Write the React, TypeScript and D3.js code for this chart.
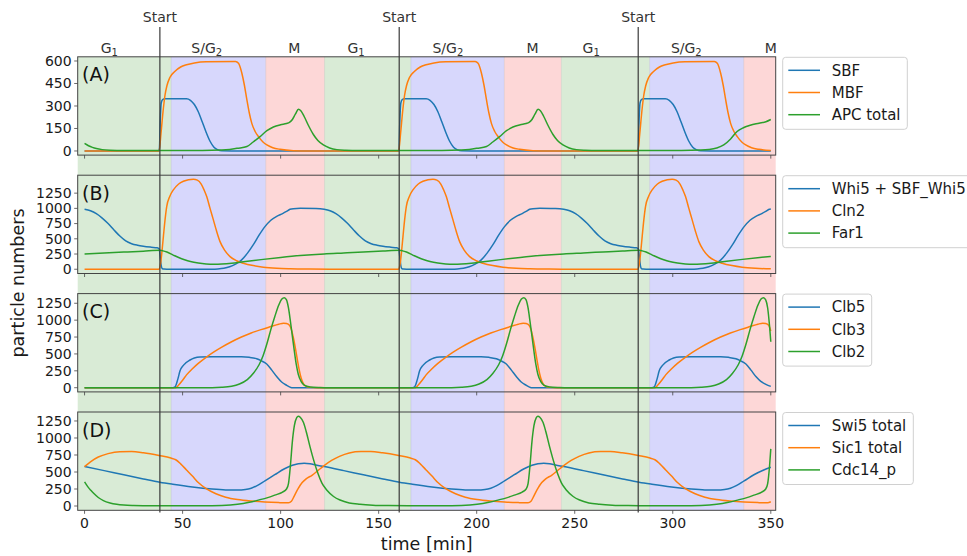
import React from 'react';
import * as d3 from 'd3';

type P = [number, number];

const TIME_TICKS = [0, 50, 100, 150, 200, 250, 300, 350];
const START_TIMES = [38.4, 160.5, 282.4];
const PHASE_BOUNDS = [-3.5, 44.2, 92.4, 122.4, 166.4, 214.1, 243.2, 288.2, 336.2, 352.5];
const PHASE_KINDS = ['G1', 'SG2', 'M', 'G1', 'SG2', 'M', 'G1', 'SG2', 'M'];
const PHASE_LABEL_POS = [12.6, 62.3, 107, 138.5, 185.3, 228.5, 258.4, 306.9, 350];

const SBF: P[] = [[0,0],[37.8,0],[38.2,20],[38.6,200],[39.1,320],[39.8,343],[41,348],[52,348],[54,338],[56,310],[58,262],[60,195],[62,125],[64,65],[66,25],[68,7],[70,1],[75,0],
[160,0],[160.4,20],[160.8,200],[161.3,320],[162,343],[163.2,348],[174.2,348],[176.2,338],[178.2,310],[180.2,262],[182.2,195],[184.2,125],[186.2,65],[188.2,25],[190.2,7],[192.2,1],[197.2,0],
[282,0],[282.4,20],[282.8,200],[283.3,320],[284,343],[285.2,348],[296.2,348],[298.2,338],[300.2,310],[302.2,262],[304.2,195],[306.2,125],[308.2,65],[310.2,25],[312.2,7],[314.2,1],[319.2,0],[350,0]];

const MBF: P[] = [[0,0],[38,0],[39,120],[40,260],[41,370],[42,435],[43.5,490],[46,530],[49,560],[52,575],[56,587],[62,595],[77,597],[78.5,585],[80.2,520],[81.5,440],[82.8,340],[84,255],[85.3,184],[87,130],[88.7,96],[91,60],[93,40],[96,22],[99.7,11],[106.5,2],[115,0],
[160.2,0],[161.2,120],[162.2,260],[163.2,370],[164.2,435],[165.7,490],[168.2,530],[171.2,560],[174.2,575],[178.2,587],[184.2,595],[199.2,597],[200.7,585],[202.4,520],[203.7,440],[205,340],[206.2,255],[207.5,184],[209.2,130],[210.9,96],[213.2,60],[215.2,40],[218.2,22],[221.9,11],[228.7,2],[237.2,0],
[282.2,0],[283.2,120],[284.2,260],[285.2,370],[286.2,435],[287.7,490],[290.2,530],[293.2,560],[296.2,575],[300.2,587],[306.2,595],[321.2,597],[322.7,585],[324.4,520],[325.7,440],[327,340],[328.2,255],[329.5,184],[331.2,130],[332.9,96],[335.2,60],[337.2,40],[340.2,22],[343.9,11],[350,3]];

const APC: P[] = [[0,50],[2,35],[4,24],[6,16],[9,9],[13,5],[20,3],[60,3],[70,6],[74,10],[78,18],[82.8,30],[86,60],[89.5,96],[93,135],[96.3,160],[100,175],[103,183],[104.5,190],[106,210],[107.5,245],[109.1,278],[110.3,268],[112,230],[114,175],[116.7,110],[119,70],[121.8,40],[125,20],[128.7,9],[133,5],[140,3],
[182.2,3],[192.2,6],[196.2,10],[200.2,18],[205,30],[208.2,60],[211.7,96],[215.2,135],[218.5,160],[222.2,175],[225.2,183],[226.7,190],[228.2,210],[229.7,245],[231.3,278],[232.5,268],[234.2,230],[236.2,175],[238.9,110],[241.2,70],[244,40],[247.2,20],[250.9,9],[255.2,5],[262.2,3],
[304.4,3],[314.4,6],[318.4,10],[322.4,20],[326,40],[329.5,80],[332.8,130],[336,155],[339.5,172],[344,185],[347.5,195],[350,210]];

const WHI5: P[] = [[0,985],[3,960],[6,912],[9,840],[12,750],[15,645],[18,545],[21,465],[24,420],[27,395],[30,378],[34,362],[37,352],[38,335],[38.6,200],[39.1,60],[39.6,12],[40.5,2],[42,0],
[65,0],[68,4],[71,15],[74,40],[77,85],[80,150],[83,260],[86,400],[89,560],[92,700],[95,805],[98,870],[101,915],[103,950],[104.8,985],[106.5,995],[110,1000],[118,998],[122.2,985],
[125.2,960],[128.2,912],[131.2,840],[134.2,750],[137.2,645],[140.2,545],[143.2,465],[146.2,420],[149.2,395],[152.2,378],[156.2,362],[159.2,352],[160.2,335],[160.8,200],[161.3,60],[161.8,12],[162.7,2],[164.2,0],
[187.2,0],[190.2,4],[193.2,15],[196.2,40],[199.2,85],[202.2,150],[205.2,260],[208.2,400],[211.2,560],[214.2,700],[217.2,805],[220.2,870],[223.2,915],[225.2,950],[227,985],[228.7,995],[232.2,1000],[240.2,998],[244.4,985],
[247.4,960],[250.4,912],[253.4,840],[256.4,750],[259.4,645],[262.4,545],[265.4,465],[268.4,420],[271.4,395],[274.4,378],[278.4,362],[281.4,352],[282.4,335],[283,200],[283.5,60],[284,12],[284.9,2],[286.4,0],
[309.4,0],[312.4,4],[315.4,15],[318.4,40],[321.4,85],[324.4,150],[327.4,260],[330.4,400],[333.4,560],[336.4,700],[339.4,805],[342.4,870],[345.4,915],[347.4,950],[349.2,985],[350,990]];

const CLN2: P[] = [[0,0],[38,0],[38.8,100],[39.5,300],[40.2,536],[41,800],[41.9,1030],[43.5,1200],[45.3,1304],[48,1400],[50.4,1445],[53,1472],[55.5,1480],[57.5,1465],[59.5,1400],[61,1300],[62.3,1194],[64,1000],[65.7,811],[67.4,620],[69.1,454],[71.5,310],[74.2,207],[77.5,140],[81,99],[86,60],[91.2,33],[98,15],[105,7],[115,2],[125,0],
[160.2,0],[161,100],[161.7,300],[162.4,536],[163.2,800],[164.1,1030],[165.7,1200],[167.5,1304],[170.2,1400],[172.6,1445],[175.2,1472],[177.7,1480],[179.7,1465],[181.7,1400],[183.2,1300],[184.5,1194],[186.2,1000],[187.9,811],[189.6,620],[191.3,454],[193.7,310],[196.4,207],[199.7,140],[203.2,99],[208.2,60],[213.4,33],[220.2,15],[227.2,7],[237.2,2],[247.2,0],
[282.2,0],[283,100],[283.7,300],[284.4,536],[285.2,800],[286.1,1030],[287.7,1200],[289.5,1304],[292.2,1400],[294.6,1445],[297.2,1472],[299.7,1480],[301.7,1465],[303.7,1400],[305.2,1300],[306.5,1194],[308.2,1000],[309.9,811],[311.6,620],[313.3,454],[315.7,310],[318.4,207],[321.7,140],[325.2,99],[330.2,60],[335.4,33],[342.2,15],[350,6]];

const FAR1: P[] = [[0,250],[10,266],[20,282],[30,297],[38.4,310],[40,302],[42,282],[45,237],[48,192],[51,155],[54,126],[58,102],[62,88],[66,83],[70,86],[75,98],[80,118],[90,158],[100,193],[110,224],[122.2,252],
[132.2,268],[142.2,284],[152.2,299],[160.6,310],[162.2,302],[164.2,282],[167.2,237],[170.2,192],[173.2,155],[176.2,126],[180.2,102],[184.2,88],[188.2,83],[192.2,86],[197.2,98],[202.2,118],[212.2,158],[222.2,193],[232.2,224],[244.4,252],
[254.4,268],[264.4,284],[274.4,299],[282.8,310],[284.4,302],[286.4,282],[289.4,237],[292.4,192],[295.4,155],[298.4,126],[302.4,102],[306.4,88],[310.4,83],[314.4,86],[319.4,98],[324.4,118],[334.4,158],[344.4,193],[350,210]];

const CLB5: P[] = [[0,0],[45,0],[46.2,15],[47.5,120],[48.7,250],[50.5,335],[53.8,410],[56,440],[58.9,455],[65,458],[80,458],[84,450],[87.8,428],[90,400],[92.9,350],[95.5,260],[98,165],[100.5,85],[103.1,35],[104.5,12],[105.6,0],
[167.2,0],[168.4,15],[169.7,120],[170.9,250],[172.7,335],[176,410],[178.2,440],[181.1,455],[187.2,458],[202.2,458],[206.2,450],[210,428],[212.2,400],[215.1,350],[217.7,260],[220.2,165],[222.7,85],[225.3,35],[226.7,12],[227.8,0],
[289.4,0],[290.6,15],[291.9,120],[293.1,250],[294.9,335],[298.2,410],[300.4,440],[303.3,455],[309.4,458],[324.4,458],[328.4,450],[332.2,428],[334.4,400],[337.3,350],[339.9,260],[342.4,165],[344.9,95],[347.5,50],[350,20]];

const CLB3: P[] = [[0,0],[46.5,0],[48,40],[50,110],[52,190],[55,280],[58,360],[62,450],[66,530],[70,600],[75,680],[80,750],[85,810],[90,860],[95,905],[99,940],[101.5,955],[103,950],[104.5,925],[105.5,860],[106.5,740],[107.5,590],[108.5,420],[109.5,260],[110.5,140],[111.6,60],[113,20],[115,5],[118,0],
[168.7,0],[170.2,40],[172.2,110],[174.2,190],[177.2,280],[180.2,360],[184.2,450],[188.2,530],[192.2,600],[197.2,680],[202.2,750],[207.2,810],[212.2,860],[217.2,905],[221.2,940],[223.7,955],[225.2,950],[226.7,925],[227.7,860],[228.7,740],[229.7,590],[230.7,420],[231.7,260],[232.7,140],[233.8,60],[235.2,20],[237.2,5],[240.2,0],
[290.9,0],[292.4,40],[294.4,110],[296.4,190],[299.4,280],[302.4,360],[306.4,450],[310.4,530],[314.4,600],[319.4,680],[324.4,750],[329.4,810],[334.4,860],[339.4,905],[343.4,940],[345.9,955],[347.4,950],[348.9,925],[350,840]];

const CLB2: P[] = [[0,0],[60,0],[70,8],[75,22],[79,55],[83,120],[86,210],[89,340],[91,470],[93,650],[95,860],[97,1050],[99,1220],[100.5,1310],[101.9,1333],[103,1300],[104,1180],[105,980],[106,760],[107,540],[108,340],[109,200],[110.5,90],[112,40],[115,12],[120,3],[125,0],
[182.2,0],[192.2,8],[197.2,22],[201.2,55],[205.2,120],[208.2,210],[211.2,340],[213.2,470],[215.2,650],[217.2,860],[219.2,1050],[221.2,1220],[222.7,1310],[224.1,1333],[225.2,1300],[226.2,1180],[227.2,980],[228.2,760],[229.2,540],[230.2,340],[231.2,200],[232.7,90],[234.2,40],[237.2,12],[242.2,3],[247.2,0],
[304.4,0],[314.4,8],[319.4,22],[323.4,55],[327.4,120],[330.4,210],[333.4,340],[335.4,470],[337.4,650],[339.4,860],[341.4,1050],[343.4,1220],[344.9,1310],[346.3,1333],[347.4,1300],[348.4,1180],[349.4,900],[350,680]];

const SWI5: P[] = [[0,580],[10,520],[20,458],[30,398],[38.4,350],[45,320],[55,280],[65,250],[72,237],[78,234],[82,242],[85,262],[88,300],[92,370],[97,460],[102,548],[106,598],[109,620],[112,630],[115,622],[118,603],[122.2,580],
[132.2,520],[142.2,458],[152.2,398],[160.6,350],[167.2,320],[177.2,280],[187.2,250],[194.2,237],[200.2,234],[204.2,242],[207.2,262],[210.2,300],[214.2,370],[219.2,460],[224.2,548],[228.2,598],[231.2,620],[234.2,630],[237.2,622],[240.2,603],[244.4,580],
[254.4,520],[264.4,458],[274.4,398],[282.8,350],[289.4,320],[299.4,280],[309.4,250],[316.4,237],[322.4,234],[326.4,242],[329.4,262],[332.4,300],[336.4,370],[341.4,460],[346.4,530],[350,570]];

const SIC1: P[] = [[0,578],[3,650],[7,720],[12,770],[18,798],[24,800],[30,782],[38,742],[44,705],[46.5,680],[49,620],[52,530],[55,440],[58,345],[62,255],[67,180],[72,130],[78,95],[85,72],[92,58],[99,50],[104,47],[105.5,70],[107,150],[109,260],[111,345],[113,400],[116,452],[119,520],[122,590],[126,670],[130,730],[135,780],[141,800],[146,800],[152,782],
[160.2,742],[166.2,705],[168.7,680],[171.2,620],[174.2,530],[177.2,440],[180.2,345],[184.2,255],[189.2,180],[194.2,130],[200.2,95],[207.2,72],[214.2,58],[221.2,50],[226.2,47],[227.7,70],[229.2,150],[231.2,260],[233.2,345],[235.2,400],[238.2,452],[241.2,520],[244.2,590],[248.2,670],[252.2,730],[257.2,780],[263.2,800],[268.2,800],[274.2,782],
[282.4,742],[288.4,705],[290.9,680],[293.4,620],[296.4,530],[299.4,440],[302.4,345],[306.4,255],[311.4,180],[316.4,130],[322.4,95],[329.4,72],[336.4,58],[343.4,50],[348.4,47],[350,62]];

const CDC14: P[] = [[0,355],[1,310],[2,270],[3.2,230],[4.5,190],[7,125],[9.6,80],[13,45],[16.4,25],[20,14],[25,8],[35,4],[60,3],[70,8],[78,25],[84,55],[89,90],[93,120],[97,160],[101,205],[103,250],[104,330],[105,600],[106,950],[107,1180],[108.2,1300],[109,1320],[110,1305],[111.6,1230],[113,1100],[115,870],[117,660],[119,480],[121,340],[123.5,235],[127,140],[130.3,88],[135,45],[140.5,25],[147,12],[155,6],[165,4],
[182.2,3],[192.2,8],[200.2,25],[206.2,55],[211.2,90],[215.2,120],[219.2,160],[223.2,205],[225.2,250],[226.2,330],[227.2,600],[228.2,950],[229.2,1180],[230.4,1300],[231.2,1320],[232.2,1305],[233.8,1230],[235.2,1100],[237.2,870],[239.2,660],[241.2,480],[243.2,340],[245.7,235],[249.2,140],[252.5,88],[257.2,45],[262.7,25],[269.2,12],[277.2,6],[287.2,4],
[304.4,3],[314.4,8],[322.4,25],[328.4,55],[333.4,90],[337.4,120],[341.4,160],[345.4,205],[347.4,250],[348.4,330],[349.4,600],[350,840]];

const Y_TICKS_A = [0, 150, 300, 450, 600];
const Y_TICKS_BCD = [0, 250, 500, 750, 1000, 1250];

const C_BLUE = '#1f77b4', C_ORANGE = '#ff7f0e', C_GREEN = '#2ca02c';

const PANELS = [
  { tag: '(A)', top: 56.8, yDomain: [-27.5, 628], ticks: Y_TICKS_A, legendW: 124.6,
    series: [{ name: 'SBF', data: SBF, color: C_BLUE }, { name: 'MBF', data: MBF, color: C_ORANGE }, { name: 'APC total', data: APC, color: C_GREEN }] },
  { tag: '(B)', top: 175.2, yDomain: [-70, 1545], ticks: Y_TICKS_BCD, legendW: 200,
    series: [{ name: 'Whi5 + SBF_Whi5', data: WHI5, color: C_BLUE }, { name: 'Cln2', data: CLN2, color: C_ORANGE }, { name: 'Far1', data: FAR1, color: C_GREEN }] },
  { tag: '(C)', top: 293.6, yDomain: [-62, 1393], ticks: Y_TICKS_BCD, legendW: 89,
    series: [{ name: 'Clb5', data: CLB5, color: C_BLUE }, { name: 'Clb3', data: CLB3, color: C_ORANGE }, { name: 'Clb2', data: CLB2, color: C_GREEN }] },
  { tag: '(D)', top: 412, yDomain: [-63, 1382], ticks: Y_TICKS_BCD, legendW: 130.6,
    series: [{ name: 'Swi5 total', data: SWI5, color: C_BLUE }, { name: 'Sic1 total', data: SIC1, color: C_ORANGE }, { name: 'Cdc14_p', data: CDC14, color: C_GREEN }] },
];

const PANEL_H = 98.3;
const LEFT = 77.7, RIGHT = 775.7;
const FONT = '"DejaVu Sans", sans-serif';
const PHASE_FILL: Record<string, string> = { G1: 'rgb(217,235,214)', SG2: 'rgb(215,215,252)', M: 'rgb(253,215,215)' };

export default function App() {
  const x = d3.scaleLinear().domain([-3.5, 352.5]).range([LEFT, RIGHT]);
  const shadeTop = PANELS[0].top;
  const shadeBottom = PANELS[3].top + PANEL_H;

  return (
    <svg width={967} height={556} style={{ position: 'absolute', left: 0, top: 0, background: '#fff' }} fontFamily={FONT}>
      <defs>
        {PANELS.map((p, i) => (
          <clipPath id={`clip${i}`} key={i}>
            <rect x={LEFT} y={p.top} width={RIGHT - LEFT} height={PANEL_H} />
          </clipPath>
        ))}
      </defs>
      {/* phase shading */}
      {PHASE_KINDS.map((k, i) => (
        <rect key={`ph${i}`} x={x(PHASE_BOUNDS[i])} y={shadeTop} width={x(PHASE_BOUNDS[i + 1]) - x(PHASE_BOUNDS[i])}
          height={shadeBottom - shadeTop} fill={PHASE_FILL[k]} />
      ))}
      {PHASE_BOUNDS.slice(1, -1).map((b, i) => (
        <line key={`pb${i}`} x1={x(b)} x2={x(b)} y1={shadeTop} y2={shadeBottom} stroke="#000" strokeOpacity={0.08} strokeWidth={1} />
      ))}
      {/* phase labels */}
      {PHASE_KINDS.map((k, i) => {
        const cx = x(PHASE_LABEL_POS[i]);
        if (k === 'M') return <text key={`pl${i}`} x={cx} y={52.5} textAnchor="middle" fontSize={14} fill="#333">M</text>;
        if (k === 'G1') return (
          <text key={`pl${i}`} x={cx} y={52.5} textAnchor="middle" fontSize={14} fill="#333">G<tspan fontSize={10} dy={3}>1</tspan></text>
        );
        return (
          <text key={`pl${i}`} x={cx} y={52.5} textAnchor="middle" fontSize={14} fill="#333">S/G<tspan fontSize={10} dy={3}>2</tspan></text>
        );
      })}
      {PANELS.map((p, pi) => {
        const y = d3.scaleLinear().domain(p.yDomain).range([p.top + PANEL_H, p.top]);
        const line = d3.line<P>().x(d => x(d[0])).y(d => y(d[1])).curve(d3.curveMonotoneX);
        const bottom = p.top + PANEL_H;
        return (
          <g key={`panel${pi}`}>
            <g clipPath={`url(#clip${pi})`}>
              {p.series.map((s, si) => (
                <path key={si} d={line(s.data) || ''} fill="none" stroke={s.color} strokeWidth={1.5} />
              ))}
            </g>
            <rect x={LEFT} y={p.top} width={RIGHT - LEFT} height={PANEL_H} fill="none" stroke="#444" strokeWidth={1} />
            {p.ticks.map(t => (
              <g key={`yt${t}`}>
                <line x1={LEFT - 3.5} x2={LEFT} y1={y(t)} y2={y(t)} stroke="#444" strokeWidth={0.8} />
                <text x={LEFT - 6} y={y(t)} dy="0.35em" textAnchor="end" fontSize={14} fill="#1a1a1a">{t}</text>
              </g>
            ))}
            {TIME_TICKS.map(t => (
              <g key={`xt${t}`}>
                <line x1={x(t)} x2={x(t)} y1={bottom} y2={bottom + 3.5} stroke="#444" strokeWidth={0.8} />
                {pi === 3 && <text x={x(t)} y={bottom + 18} textAnchor="middle" fontSize={14} fill="#1a1a1a">{t}</text>}
              </g>
            ))}
            <text x={82} y={p.top + 24.5} fontSize={19} fill="#111">{p.tag}</text>
            {/* legend */}
            <g>
              <rect x={782.7} y={p.top + 0.5} width={p.legendW} height={72} rx={3} fill="#fff" fillOpacity={0.8} stroke="#d0d0d0" strokeWidth={1} />
              {p.series.map((s, si) => {
                const ly = p.top + 13.5 + si * 22.2;
                return (
                  <g key={`lg${si}`}>
                    <line x1={788.3} x2={820} y1={ly} y2={ly} stroke={s.color} strokeWidth={1.5} />
                    <text x={831.7} y={ly} dy="0.35em" fontSize={15} fill="#1a1a1a">{s.name}</text>
                  </g>
                );
              })}
            </g>
          </g>
        );
      })}
      {/* Start lines */}
      {START_TIMES.map((t, i) => (
        <g key={`st${i}`}>
          <line x1={x(t)} x2={x(t)} y1={27} y2={512.5} stroke="#3a3a3a" strokeOpacity={0.8} strokeWidth={1.5} />
          <text x={x(t)} y={21.5} textAnchor="middle" fontSize={14} fill="#333">Start</text>
        </g>
      ))}
      <text x={426.7} y={550} textAnchor="middle" fontSize={17.5} fill="#1a1a1a">time [min]</text>
      <text transform="translate(24,283) rotate(-90)" textAnchor="middle" fontSize={17.5} fill="#1a1a1a">particle numbers</text>
    </svg>
  );
}
